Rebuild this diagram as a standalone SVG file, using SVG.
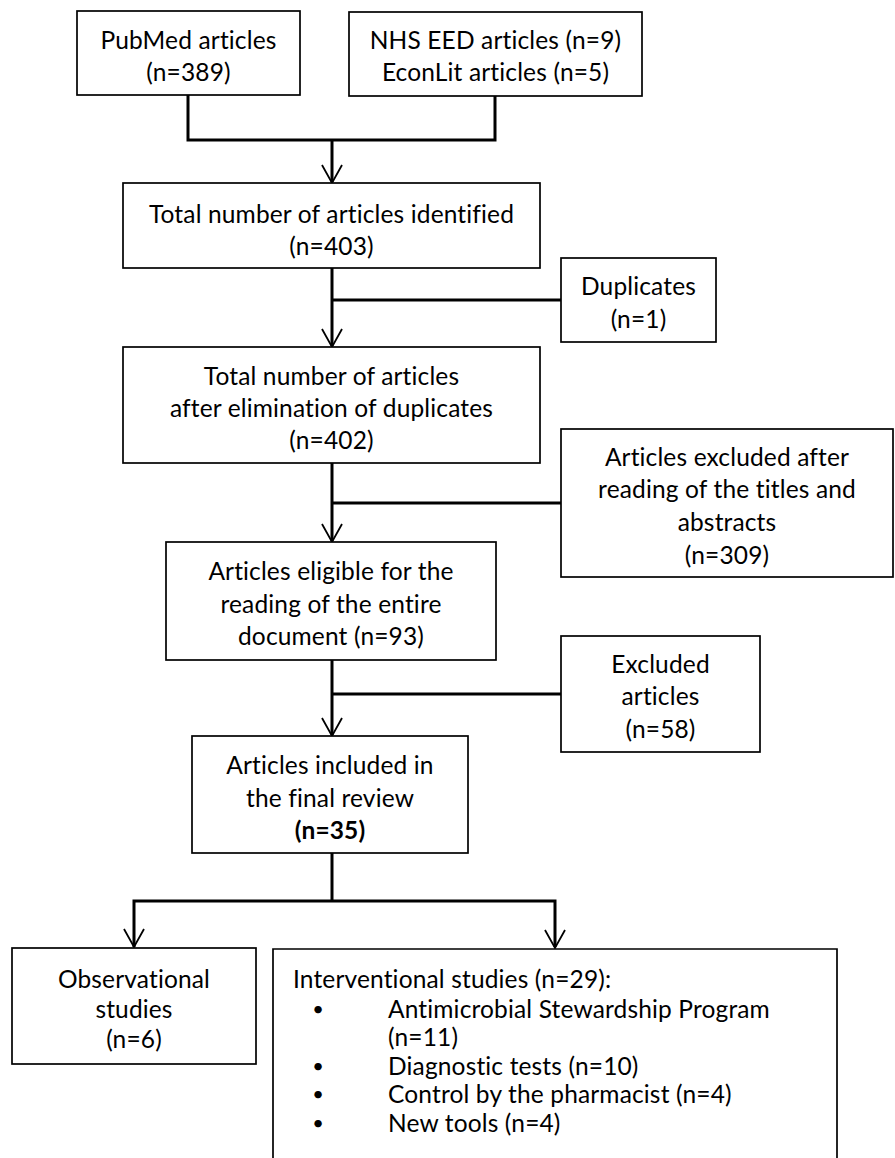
<svg xmlns="http://www.w3.org/2000/svg" width="895" height="1158" viewBox="0 0 895 1158">
<style>
.box{fill:#fff;stroke:#000;stroke-width:1.7}
.t{font-family:Lato,"Liberation Sans",sans-serif;font-size:24.5px;letter-spacing:0.15px;fill:#000;text-anchor:middle;dominant-baseline:central}
.l{text-anchor:start}
.b{font-weight:bold}
.bu{font-size:20px}
.c{fill:none;stroke:#000;stroke-width:3}
.h{fill:none;stroke:#000;stroke-width:1.8}
</style>
<rect width="895" height="1158" fill="#fff"/>
<g id="connectors">
<polyline class="c" points="188,95 188,140 495,140 495,96"/>
<line class="c" x1="332" y1="140" x2="332" y2="182"/>
<polyline class="h" points="322,165 332,183 342,165"/>
<line class="c" x1="332" y1="268" x2="332" y2="346"/>
<line class="c" x1="332" y1="300" x2="561" y2="300"/>
<polyline class="h" points="322,329 332,347 342,329"/>
<line class="c" x1="332" y1="463" x2="332" y2="541"/>
<line class="c" x1="332" y1="503" x2="561" y2="503"/>
<polyline class="h" points="322,524 332,542 342,524"/>
<line class="c" x1="332" y1="660" x2="332" y2="735"/>
<line class="c" x1="332" y1="694" x2="561" y2="694"/>
<polyline class="h" points="322,718 332,736 342,718"/>
<polyline class="c" points="134,947 134,901 555,901 555,947"/>
<line class="c" x1="332" y1="853" x2="332" y2="901"/>
<polyline class="h" points="124,929 134,947 144,929"/>
<polyline class="h" points="545,930 555,948 565,930"/>
</g>
<g id="pubmed">
<rect class="box" x="77" y="11" width="223" height="84"/>
<text class="t" x="188.5" y="39">PubMed articles</text>
<text class="t" x="188.5" y="71">(n=389)</text>
</g>
<g id="nhs">
<rect class="box" x="349" y="12" width="293" height="84"/>
<text class="t" x="495.5" y="39">NHS EED articles (n=9)</text>
<text class="t" x="495.5" y="71">EconLit articles (n=5)</text>
</g>
<g id="total">
<rect class="box" x="123" y="183" width="417" height="85"/>
<text class="t" x="331.5" y="213">Total number of articles identified</text>
<text class="t" x="331.5" y="245">(n=403)</text>
</g>
<g id="duplicates">
<rect class="box" x="561" y="258" width="155" height="84"/>
<text class="t" x="638.5" y="285">Duplicates</text>
<text class="t" x="638.5" y="318">(n=1)</text>
</g>
<g id="after-dup">
<rect class="box" x="123" y="347" width="417" height="116"/>
<text class="t" x="331.5" y="375">Total number of articles</text>
<text class="t" x="331.5" y="407">after elimination of duplicates</text>
<text class="t" x="331.5" y="439">(n=402)</text>
</g>
<g id="excluded-titles">
<rect class="box" x="561" y="429" width="332" height="148"/>
<text class="t" x="727" y="456">Articles excluded after</text>
<text class="t" x="727" y="488">reading of the titles and</text>
<text class="t" x="727" y="521">abstracts</text>
<text class="t" x="727" y="554">(n=309)</text>
</g>
<g id="eligible">
<rect class="box" x="166" y="542" width="330" height="118"/>
<text class="t" x="331" y="570">Articles eligible for the</text>
<text class="t" x="331" y="603">reading of the entire</text>
<text class="t" x="331" y="635">document (n=93)</text>
</g>
<g id="excluded">
<rect class="box" x="561" y="636" width="199" height="116"/>
<text class="t" x="660.5" y="663">Excluded</text>
<text class="t" x="660.5" y="695">articles</text>
<text class="t" x="660.5" y="728">(n=58)</text>
</g>
<g id="included">
<rect class="box" x="192" y="736" width="276" height="117"/>
<text class="t" x="330" y="764">Articles included in</text>
<text class="t" x="330" y="797">the final review</text>
<text class="t b" x="330" y="829">(n=35)</text>
</g>
<g id="observational">
<rect class="box" x="12" y="948" width="244" height="116"/>
<text class="t" x="134" y="978">Observational</text>
<text class="t" x="134" y="1008">studies</text>
<text class="t" x="134" y="1038">(n=6)</text>
</g>
<g id="interventional">
<path class="box" d="M273,1160 V949 H837 V1160"/>
<text class="t l" x="293" y="978">Interventional studies (n=29):</text>
<text class="t bu" x="318" y="1008">•</text>
<text class="t l" x="388" y="1008">Antimicrobial Stewardship Program</text>
<text class="t l" x="388" y="1036">(n=11)</text>
<text class="t bu" x="318" y="1065">•</text>
<text class="t l" x="388" y="1065">Diagnostic tests (n=10)</text>
<text class="t bu" x="318" y="1093">•</text>
<text class="t l" x="388" y="1093">Control by the pharmacist (n=4)</text>
<text class="t bu" x="318" y="1122">•</text>
<text class="t l" x="388" y="1122">New tools (n=4)</text>
</g>
</svg>
